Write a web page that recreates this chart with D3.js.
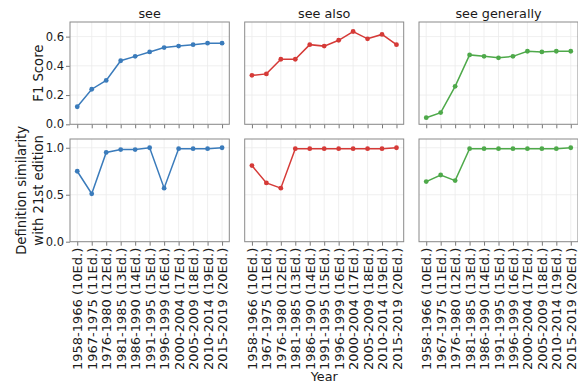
<!DOCTYPE html>
<html>
<head>
<meta charset="utf-8">
<script src="https://cdn.jsdelivr.net/npm/d3@7"></script>
<style>
  html, body { margin: 0; padding: 0; background: #fff; }
  svg { display: block; font-family: "DejaVu Sans", sans-serif; }
</style>
</head>
<body>
<svg id="chart" width="578" height="383"></svg>
<script>
// Edition periods (shared x categories)
const editions = [
  "1958-1966 (10Ed.)", "1967-1975 (11Ed.)", "1976-1980 (12Ed.)",
  "1981-1985 (13Ed.)", "1986-1990 (14Ed.)", "1991-1995 (15Ed.)",
  "1996-1999 (16Ed.)", "2000-2004 (17Ed.)", "2005-2009 (18Ed.)",
  "2010-2014 (19Ed.)", "2015-2019 (20Ed.)"
];

// Panel titles and colours
const relations = ["see", "see also", "see generally"];
const colors = ["#3a7bbb", "#d53a37", "#4ea94a"];

// F1 score per edition
const seeF1 = [0.12, 0.24, 0.30, 0.435, 0.465, 0.495, 0.525, 0.535, 0.545, 0.555, 0.555];
const seeAlsoF1 = [0.335, 0.345, 0.445, 0.445, 0.545, 0.535, 0.575, 0.635, 0.585, 0.615, 0.545];
const seeGenerallyF1 = [0.045, 0.08, 0.26, 0.475, 0.465, 0.455, 0.465, 0.50, 0.495, 0.50, 0.50];

// Definition similarity with the 21st edition
const seeSim = [0.75, 0.51, 0.95, 0.98, 0.98, 1.0, 0.57, 0.99, 0.99, 0.99, 1.0];
const seeAlsoSim = [0.81, 0.625, 0.57, 0.99, 0.99, 0.99, 0.99, 0.99, 0.99, 0.99, 1.0];
const seeGenerallySim = [0.64, 0.71, 0.65, 0.99, 0.99, 0.99, 0.99, 0.99, 0.99, 0.99, 1.0];

const f1Ticks = [0.0, 0.2, 0.4, 0.6];
const simTicks = [0.0, 0.5, 1.0];

const f1Series = [seeF1, seeAlsoF1, seeGenerallyF1];
const simSeries = [seeSim, seeAlsoSim, seeGenerallySim];

const svg = d3.select("#chart");
const xTickSize = 13;
const yTickSize = 11.5;
const labelSize = 13.2;
const textColor = "#1a1a1a";

// Layout of the 2x3 grid
const colX = [[70, 229.3], [244.7, 403.7], [419, 578]];
const rowY = [[22, 124.3], [139, 241.7]];

const rows = [
  { series: f1Series, domain: [0, 0.7], ticks: f1Ticks, fmt: d3.format(".1f") },
  { series: simSeries, domain: [0, 1.093], ticks: simTicks, fmt: d3.format(".1f") }
];

rows.forEach((row, ri) => {
  const [y0, y1] = rowY[ri];
  const y = d3.scaleLinear().domain(row.domain).range([y1, y0]);
  relations.forEach((rel, ci) => {
    const [x0, x1] = colX[ci];
    const x = d3.scaleLinear().domain([-0.5, editions.length - 0.5]).range([x0, x1]);
    const g = svg.append("g");

    // grid
    g.append("g").selectAll("line.v").data(editions).join("line")
      .attr("x1", (d, i) => x(i)).attr("x2", (d, i) => x(i))
      .attr("y1", y0).attr("y2", y1)
      .attr("stroke", "#ebebeb").attr("stroke-width", 0.8);
    g.append("g").selectAll("line.h").data(row.ticks).join("line")
      .attr("x1", x0).attr("x2", x1)
      .attr("y1", d => y(d)).attr("y2", d => y(d))
      .attr("stroke", "#ebebeb").attr("stroke-width", 0.8);

    // x axis ticks
    const xAxis = d3.axisBottom(x).tickValues(d3.range(editions.length))
      .tickSize(4).tickPadding(3)
      .tickFormat(i => ri === 1 ? editions[i] : "");
    const xa = g.append("g").attr("transform", `translate(0,${y1})`).call(xAxis);
    xa.select(".domain").remove();
    xa.selectAll(".tick line").attr("stroke", "#555").attr("stroke-width", 0.8);
    xa.selectAll(".tick text")
      .attr("font-size", xTickSize).attr("font-family", "DejaVu Sans")
      .attr("fill", textColor)
      .attr("transform", "rotate(-90)")
      .attr("text-anchor", "end")
      .attr("x", -6).attr("y", 0).attr("dy", "0.35em");

    // y axis on first column
    if (ci === 0) {
      const yAxis = d3.axisLeft(y).tickValues(row.ticks).tickFormat(row.fmt)
        .tickSize(4).tickPadding(2);
      const ya = g.append("g").attr("transform", `translate(${x0},0)`).call(yAxis);
      ya.select(".domain").remove();
      ya.selectAll(".tick line").attr("stroke", "#555").attr("stroke-width", 0.8);
      ya.selectAll(".tick text").attr("font-size", yTickSize)
        .attr("font-family", "DejaVu Sans").attr("fill", textColor);
    }

    // frame
    g.append("rect").attr("x", x0).attr("y", y0)
      .attr("width", x1 - x0).attr("height", y1 - y0)
      .attr("fill", "none").attr("stroke", "#8a8a8a").attr("stroke-width", 1);

    // line + markers
    const vals = row.series[ci];
    g.append("path").datum(vals)
      .attr("d", d3.line().x((d, i) => x(i)).y(d => y(d)))
      .attr("fill", "none").attr("stroke", colors[ci]).attr("stroke-width", 1.5);
    g.append("g").selectAll("circle").data(vals).join("circle")
      .attr("cx", (d, i) => x(i)).attr("cy", d => y(d)).attr("r", 2.4)
      .attr("fill", colors[ci]);

    // titles on top row
    if (ri === 0) {
      svg.append("text").attr("x", (x0 + x1) / 2).attr("y", y0 - 4.5)
        .attr("text-anchor", "middle").attr("font-size", 12.8)
        .attr("fill", textColor).text(rel);
    }
  });
});

// axis labels
svg.append("text")
  .attr("transform", `translate(43,${(rowY[0][0] + rowY[0][1]) / 2}) rotate(-90)`)
  .attr("text-anchor", "middle").attr("font-size", labelSize).attr("fill", textColor)
  .text("F1 Score");

const simLabel = svg.append("text")
  .attr("transform", `translate(0,${(rowY[1][0] + rowY[1][1]) / 2}) rotate(-90)`)
  .attr("text-anchor", "middle").attr("font-size", labelSize).attr("fill", textColor);
simLabel.append("tspan").attr("x", 0).attr("y", 25.5).text("Definition similarity");
simLabel.append("tspan").attr("x", 0).attr("y", 42.5).text("with 21st edition");

svg.append("text")
  .attr("x", (colX[1][0] + colX[1][1]) / 2).attr("y", 381)
  .attr("text-anchor", "middle").attr("font-size", 12.8).attr("fill", textColor)
  .text("Year");
</script>
</body>
</html>
